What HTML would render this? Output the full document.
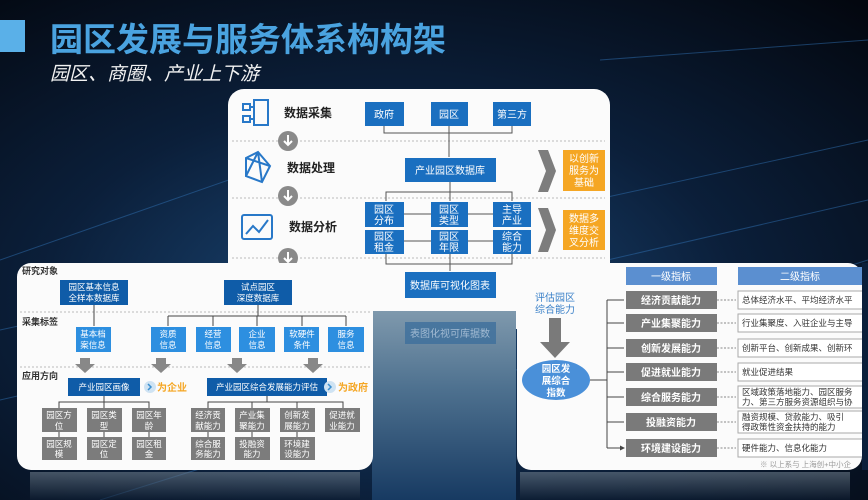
<!DOCTYPE html>
<html><head><meta charset="utf-8"><style>
html,body{margin:0;padding:0;width:868px;height:500px;overflow:hidden;background:#050a14}
svg text{font-family:"Liberation Sans","Noto Sans CJK SC",sans-serif}
</style></head><body>
<svg width="868" height="500" viewBox="0 0 868 500" xmlns="http://www.w3.org/2000/svg">
<defs>
<radialGradient id="bg" cx="0.45" cy="0.6" r="0.8">
<stop offset="0" stop-color="#1c4a7a"/><stop offset="0.5" stop-color="#0b1f3a"/><stop offset="1" stop-color="#03070f"/>
</radialGradient>
<linearGradient id="refl" x1="0" y1="0" x2="0" y2="1">
<stop offset="0" stop-color="#7f99ad"/><stop offset="0.4" stop-color="#4f7290"/><stop offset="1" stop-color="#173a62"/>
</linearGradient>
<linearGradient id="refl2" x1="0" y1="0" x2="0" y2="1">
<stop offset="0" stop-color="#6d7c8a"/><stop offset="1" stop-color="#0d1c30"/>
</linearGradient>
<marker id="ar" markerWidth="5" markerHeight="5" refX="4" refY="2.5" orient="auto"><path d="M0,0 L5,2.5 L0,5z" fill="#444"/></marker>
</defs>
<rect width="868" height="500" fill="url(#bg)"/>
<g stroke="#2f6fb0" stroke-width="1" opacity="0.5">
<line x1="0" y1="330" x2="868" y2="140"/><line x1="0" y1="400" x2="868" y2="200"/><line x1="100" y1="500" x2="868" y2="260"/>
<line x1="600" y1="60" x2="868" y2="40"/><line x1="0" y1="260" x2="400" y2="120"/>
</g>

<!-- title -->
<rect x="0" y="20" width="25" height="32" fill="#5ab0e8"/>
<text x="50" y="51" font-size="33" font-weight="bold" fill="#4aa3e0">园区发展与服务体系构构架</text>
<text x="50" y="80" font-size="19" font-style="italic" fill="#f2f2f2">园区、商圈、产业上下游</text>

<!-- center panel -->
<rect x="228" y="89" width="382" height="240" rx="16" fill="#fbfbfb"/>
<rect x="372" y="311" width="144" height="189" fill="url(#refl)"/>
<rect x="405" y="322" width="91" height="22" fill="#3d6f9c" opacity="0.8"/>
<text x="450" y="337" font-size="10" fill="#c8d8e8" text-anchor="middle" opacity="0.7">表图化视可库据数</text>

<g stroke="#bbb" stroke-dasharray="2,2" stroke-width="1">
<line x1="232" y1="141" x2="605" y2="141"/><line x1="232" y1="198" x2="605" y2="198"/><line x1="232" y1="258" x2="605" y2="258"/>
</g>
<g fill="#8a8a8a">
<circle cx="288" cy="141" r="10"/><circle cx="288" cy="196" r="10"/><circle cx="288" cy="258" r="10"/>
</g>
<g stroke="#fff" stroke-width="2" fill="none">
<path d="M288,135 v10 M284,141 l4,4 l4,-4"/><path d="M288,190 v10 M284,196 l4,4 l4,-4"/><path d="M288,252 v10 M284,258 l4,4 l4,-4"/>
</g>
<!-- icons -->
<g stroke="#2878c8" stroke-width="2" fill="none">
<rect x="254" y="100" width="14" height="25"/><path d="M243,104h7v6h-7zM243,116h7v6h-7zM250,107h4M250,119h4"/>
<path d="M246,158 L258,152 L270,166 L262,182 L246,176 Z M258,152 L262,182 M246,158 L270,166 M246,176 L258,152"/>
<rect x="242" y="215" width="30" height="24" rx="2"/><path d="M246,234 l7,-8 l6,6 l9,-12"/>
</g>
<text x="284" y="117" font-size="12" font-weight="bold" fill="#222">数据采集</text>
<text x="287" y="172" font-size="12" font-weight="bold" fill="#222">数据处理</text>
<text x="289" y="231" font-size="12" font-weight="bold" fill="#222">数据分析</text>

<g stroke="#555" stroke-width="1" fill="none">
<path d="M384,126 V133 H512 V126 M449,126 V157"/>
<path d="M450,182 V192 M386,201 V192 H512 V201 M450,192 V201"/>
<path d="M404,214 H493 M404,241 H493"/>
<path d="M386,253 V264 H512 V253 M450,253 V271"/>
</g>
<g fill="#1a6fc0">
<rect x="365" y="102" width="39" height="24"/><rect x="431" y="102" width="37" height="24"/><rect x="493" y="102" width="38" height="24"/>
<rect x="405" y="158" width="91" height="24"/>
<rect x="365" y="202" width="39" height="25"/><rect x="431" y="202" width="37" height="25"/><rect x="493" y="202" width="38" height="25"/>
<rect x="365" y="230" width="39" height="24"/><rect x="431" y="230" width="37" height="24"/><rect x="493" y="230" width="38" height="24"/>
<rect x="405" y="272" width="91" height="26"/>
</g>
<g fill="#fff" font-size="10" text-anchor="middle">
<text x="384" y="118">政府</text><text x="449" y="118">园区</text><text x="512" y="118">第三方</text>
<text x="450" y="174">产业园区数据库</text>
<text x="384" y="213">园区</text><text x="384" y="224">分布</text>
<text x="449" y="213">园区</text><text x="449" y="224">类型</text>
<text x="512" y="213">主导</text><text x="512" y="224">产业</text>
<text x="384" y="240">园区</text><text x="384" y="251">租金</text>
<text x="449" y="240">园区</text><text x="449" y="251">年限</text>
<text x="512" y="240">综合</text><text x="512" y="251">能力</text>
<text x="450" y="289">数据库可视化图表</text>
</g>
<g fill="#7d7d7d"><path d="M538,150 H548 L556,171 L548,192 H538 L546,171Z"/><path d="M538,208 H548 L556,230 L548,252 H538 L546,230Z"/></g>
<rect x="563" y="150" width="42" height="41" fill="#f5a623"/><rect x="563" y="210" width="42" height="40" fill="#f5a623"/>
<g fill="#fff" font-size="10" text-anchor="middle">
<text x="584" y="162">以创新</text><text x="584" y="174">服务为</text><text x="584" y="186">基础</text>
<text x="584" y="222">数据多</text><text x="584" y="234">维度交</text><text x="584" y="246">叉分析</text>
</g>

<!-- left panel -->
<rect x="17" y="263" width="356" height="207" rx="14" fill="#fbfbfb"/>
<rect x="30" y="472" width="330" height="28" fill="url(#refl2)" opacity="0.6"/>
<g fill="#333" font-size="9" font-weight="bold">
<text x="22" y="274">研究对象</text><text x="22" y="325">采集标签</text><text x="22" y="379">应用方向</text>
</g>
<g stroke="#bbb" stroke-dasharray="2,2"><line x1="20" y1="312" x2="370" y2="312"/><line x1="20" y1="367" x2="370" y2="367"/></g>
<g stroke="#444" fill="none" stroke-width="1">
<path d="M94,305 V326"/>
<path d="M258,305 V316 M168,316 H346 M168,316 V326 M213,316 V326 M257,316 V326 M302,316 V326 M346,316 V326"/>
<path d="M104,396 V402 H59 V408 M104,402 H149 V408 M104,402 V408 M59,432 V437 M104,432 V437 M149,432 V437"/>
<path d="M267,396 V402 H208 V408 M267,402 H343 V408 M252,402 V408 M297,402 V408 M208,432 V437 M252,432 V437 M297,432 V437"/>
</g>
<g fill="#0f5ca8">
<rect x="60" y="280" width="68" height="25"/><rect x="224" y="280" width="68" height="25"/>
<rect x="68" y="378" width="72" height="18"/><rect x="207" y="378" width="120" height="18"/>
</g>
<g fill="#2d8fe0">
<rect x="76" y="327" width="35" height="25"/><rect x="151" y="327" width="35" height="25"/><rect x="196" y="327" width="35" height="25"/>
<rect x="239" y="327" width="36" height="25"/><rect x="284" y="327" width="35" height="25"/><rect x="328" y="327" width="36" height="25"/>
</g>
<g fill="#888">
<path d="M80,358h10v6h5l-10,9l-10,-9h5z"/><path d="M156,358h10v6h5l-10,9l-10,-9h5z"/><path d="M232,358h10v6h5l-10,9l-10,-9h5z"/><path d="M308,358h10v6h5l-10,9l-10,-9h5z"/>
</g>
<g fill="#7c7c7c">
<rect x="42" y="408" width="35" height="24"/><rect x="87" y="408" width="35" height="24"/><rect x="132" y="408" width="34" height="24"/>
<rect x="42" y="437" width="35" height="23"/><rect x="87" y="437" width="35" height="23"/><rect x="132" y="437" width="34" height="23"/>
<rect x="191" y="408" width="34" height="24"/><rect x="235" y="408" width="35" height="24"/><rect x="280" y="408" width="35" height="24"/><rect x="325" y="408" width="35" height="24"/>
<rect x="191" y="437" width="34" height="23"/><rect x="235" y="437" width="35" height="23"/><rect x="280" y="437" width="35" height="23"/>
</g>
<g fill="#fff" font-size="8.5" text-anchor="middle">
<text x="94" y="290">园区基本信息</text><text x="94" y="301">全样本数据库</text>
<text x="258" y="290">试点园区</text><text x="258" y="301">深度数据库</text>
<text x="93" y="337">基本档</text><text x="93" y="348">案信息</text>
<text x="168" y="337">资质</text><text x="168" y="348">信息</text>
<text x="213" y="337">经营</text><text x="213" y="348">信息</text>
<text x="257" y="337">企业</text><text x="257" y="348">信息</text>
<text x="302" y="337">软硬件</text><text x="302" y="348">条件</text>
<text x="346" y="337">服务</text><text x="346" y="348">信息</text>
<text x="104" y="390">产业园区画像</text><text x="267" y="390">产业园区综合发展能力评估</text>
<text x="59" y="418">园区方</text><text x="59" y="429">位</text>
<text x="104" y="418">园区类</text><text x="104" y="429">型</text>
<text x="149" y="418">园区年</text><text x="149" y="429">龄</text>
<text x="59" y="447">园区规</text><text x="59" y="457">模</text>
<text x="104" y="447">园区定</text><text x="104" y="457">位</text>
<text x="149" y="447">园区租</text><text x="149" y="457">金</text>
<text x="208" y="418">经济贡</text><text x="208" y="429">献能力</text>
<text x="252" y="418">产业集</text><text x="252" y="429">聚能力</text>
<text x="297" y="418">创新发</text><text x="297" y="429">展能力</text>
<text x="342" y="418">促进就</text><text x="342" y="429">业能力</text>
<text x="208" y="447">综合服</text><text x="208" y="457">务能力</text>
<text x="252" y="447">投融资</text><text x="252" y="457">能力</text>
<text x="297" y="447">环境建</text><text x="297" y="457">设能力</text>
</g>
<circle cx="150" cy="387" r="6" fill="#cfe3f3"/><path d="M148,384 l3,3 l-3,3" stroke="#3a8fd0" stroke-width="1.5" fill="none"/>
<circle cx="330" cy="387" r="6" fill="#cfe3f3"/><path d="M328,384 l3,3 l-3,3" stroke="#3a8fd0" stroke-width="1.5" fill="none"/>
<text x="157" y="391" font-size="10" font-weight="bold" fill="#f5a623">为企业</text>
<text x="338" y="391" font-size="10" font-weight="bold" fill="#f5a623">为政府</text>

<!-- right panel -->
<rect x="517" y="263" width="345" height="207" rx="14" fill="#fbfbfb"/>
<rect x="520" y="472" width="330" height="28" fill="url(#refl2)" opacity="0.6"/>
<rect x="626" y="267" width="91" height="18" fill="#5b8fd0"/><rect x="738" y="267" width="124" height="18" fill="#5b8fd0"/>
<text x="671" y="280" font-size="10" fill="#fff" text-anchor="middle">一级指标</text>
<text x="800" y="280" font-size="10" fill="#fff" text-anchor="middle">二级指标</text>
<text x="555" y="301" font-size="10" fill="#3a80c8" text-anchor="middle">评估园区</text>
<text x="555" y="313" font-size="10" fill="#3a80c8" text-anchor="middle">综合能力</text>
<path d="M549,318h12v24h9l-15,16l-15,-16h9z" fill="#7a7a7a"/>
<ellipse cx="556" cy="380" rx="34" ry="20" fill="#4a90d9"/>
<g fill="#fff" font-size="9.5" text-anchor="middle" font-weight="bold">
<text x="556" y="372">园区发</text><text x="556" y="384">展综合</text><text x="556" y="396">指数</text>
</g>
<g stroke="#444" fill="none">
<path d="M590,380 H607 M607,300 V448"/>
<path d="M607,300 H624 M607,323 H624 M607,348 H624 M607,372 H624 M607,397 H624 M607,422 H624 M607,448 H624" marker-end="url(#ar)"/>
</g>
<g stroke="#888" stroke-dasharray="2,1.5" fill="none">
<path d="M717,300 H736 M717,323 H736 M717,348 H736 M717,372 H736 M717,397 H736 M717,422 H736 M717,448 H736"/>
</g>
<g fill="#7a7a7a">
<rect x="626" y="291" width="91" height="18"/><rect x="626" y="314" width="91" height="18"/><rect x="626" y="339" width="91" height="18"/>
<rect x="626" y="363" width="91" height="18"/><rect x="626" y="388" width="91" height="18"/><rect x="626" y="413" width="91" height="18"/><rect x="626" y="439" width="91" height="18"/>
</g>
<g fill="#fff" stroke="#aaa">
<rect x="738" y="291" width="130" height="18"/><rect x="738" y="314" width="130" height="18"/><rect x="738" y="339" width="130" height="18"/>
<rect x="738" y="363" width="130" height="18"/><rect x="738" y="386" width="130" height="22"/><rect x="738" y="411" width="130" height="22"/><rect x="738" y="439" width="130" height="18"/>
</g>
<g fill="#fff" font-size="10" text-anchor="middle" font-weight="bold">
<text x="671" y="304">经济贡献能力</text><text x="671" y="327">产业集聚能力</text><text x="671" y="352">创新发展能力</text>
<text x="671" y="376">促进就业能力</text><text x="671" y="401">综合服务能力</text><text x="671" y="426">投融资能力</text><text x="671" y="452">环境建设能力</text>
</g>
<g fill="#333" font-size="8.5">
<text x="742" y="303">总体经济水平、平均经济水平</text>
<text x="742" y="326">行业集聚度、入驻企业与主导</text>
<text x="742" y="351">创新平台、创新成果、创新环</text>
<text x="742" y="375">就业促进结果</text>
<text x="742" y="395">区域政策落地能力、园区服务</text><text x="742" y="405">力、第三方服务资源组织与协</text>
<text x="742" y="420">融资规模、贷款能力、吸引</text><text x="742" y="430">得政策性资金扶持的能力</text>
<text x="742" y="451">硬件能力、信息化能力</text>
</g>
<text x="760" y="467" font-size="7.5" fill="#999">※ 以上系与 上海创+中小企</text>
<rect x="862" y="263" width="6" height="207" fill="#0b1f3a"/>
</svg>
</body></html>
